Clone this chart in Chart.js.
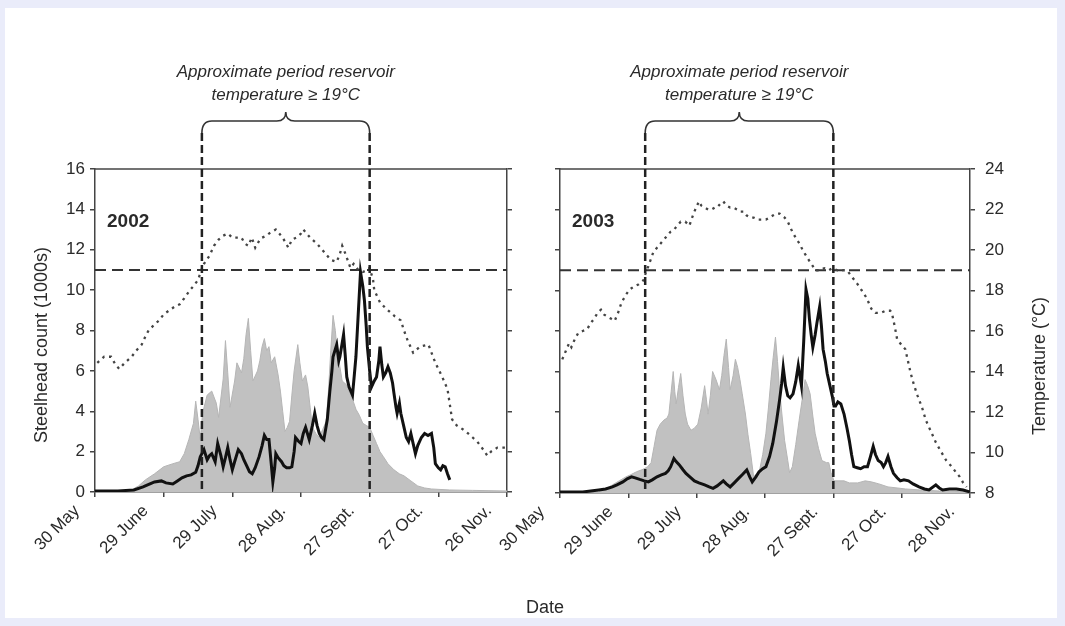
<!DOCTYPE html>
<html>
<head>
<meta charset="utf-8">
<script src="https://cdn.jsdelivr.net/npm/chart.js@4/dist/chart.umd.min.js"></script>
<style>
  body { margin: 0; width: 1065px; height: 626px; overflow: hidden; background: #eaecfa;
         font-family: "Liberation Sans", Arial, sans-serif; }
  #sheet { position: absolute; left: 5px; top: 8px; width: 1052px; height: 610px; background: #fff; }
  canvas { position: absolute; top: 0; }
  #c02 { left: 0; }
  #c03 { left: 470px; }
  #date { position: absolute; left: 500px; width: 90px; top: 597px; text-align: center;
          font-size: 18px; color: #2a2a2a; }
</style>
</head>
<body>
<div id="sheet"></div>
<canvas id="c02" width="532" height="626"></canvas>
<canvas id="c03" width="595" height="626"></canvas>
<div id="date">Date</div>
<script>
// x axis: days after 30 May, one tick every 30 days
const xLabels02 = ['30 May', '29 June', '29 July', '28 Aug.', '27 Sept.', '27 Oct.', '26 Nov.'];
const xLabels03 = ['30 May', '29 June', '29 July', '28 Aug.', '27 Sept.', '27 Oct.', '28 Nov.'];
const countTicks = [0, 2, 4, 6, 8, 10, 12, 14, 16];
const tempTicks = [8, 10, 12, 14, 16, 18, 20, 22, 24];
const threshold = 19;

// period with reservoir temperature >= 19 C (day numbers)
const period02 = [46.7, 120];
const period03 = [37.4, 120];

// shaded series, [day, count in 1000s]
const shaded02 = [[0,0],[10,0.05],[16,0.1],[19,0.3],[22,0.6],[26,0.9],[30,1.25],[34,1.4],[37,1.5],[39,1.9],[41,2.6],[43,3.4],[44,4.5],[45,3.6],[46,2.6],[47,3.9],[49,4.8],[51,5.0],[53,4.4],[54,3.7],[56,5.6],[57,7.5],[58,5.9],[59,4.2],[61,5.5],[62,6.4],[64,5.9],[65,6.6],[66,7.8],[67,8.6],[68,7.0],[69,5.5],[71,6.0],[72,6.5],[73,7.2],[74,7.6],[75,7.0],[76,7.2],[77,6.4],[78.5,6.7],[80,5.8],[81,5.0],[82,4.0],[83,3.0],[84,3.2],[85,3.5],[86,4.8],[87,6.0],[88.6,7.3],[89.5,6.4],[90.6,5.5],[92,5.8],[93,5.2],[94,4.2],[95,3.2],[96.5,2.9],[98,2.7],[99.5,3.1],[101,3.5],[102,5.0],[103,7.0],[104,8.75],[105,8.0],[105.6,7.2],[107,6.2],[108,5.5],[110,5.3],[111,5.0],[112.5,4.6],[114,4.1],[115.5,3.8],[117,3.4],[118.5,3.3],[120,3.2],[121.5,2.8],[123,2.4],[124.5,2.0],[126,1.75],[128,1.4],[130.6,1.1],[133,0.9],[135,0.8],[138,0.55],[141,0.3],[144,0.2],[147,0.15],[155,0.1],[165,0.08],[180,0.05]];
const shaded03 = [[0,0],[10,0.03],[17,0.05],[20,0.2],[23,0.4],[26,0.6],[29,0.8],[31,0.9],[33.6,1.05],[36,1.15],[37,1.2],[38.5,1.3],[40,1.5],[41.3,2.3],[42.6,3.1],[44,3.4],[45.6,3.6],[47,3.7],[47.8,3.9],[48.8,5.0],[49.7,6.0],[50.4,5.0],[51,4.4],[52,5.2],[53,5.9],[54,4.8],[55,3.9],[56,3.4],[57.5,3.1],[59,3.2],[60.5,3.4],[62,4.2],[63.5,5.3],[64.3,4.6],[65,3.9],[66,4.8],[67,6.0],[68.5,5.6],[70,5.1],[71,5.8],[72,6.8],[73,7.6],[74,6.2],[74.7,5.1],[76,5.8],[77,6.6],[78,6.2],[79,5.6],[80,4.9],[81.4,3.9],[82.5,2.9],[83.7,1.96],[85,0.8],[86,0.9],[87.4,1.0],[89,1.9],[90.4,2.95],[91.5,4.2],[92.6,5.6],[93.6,6.7],[94.6,7.7],[95.5,6.5],[96.4,5.1],[97.5,3.8],[98.6,2.6],[100,1.6],[100.8,1.0],[102,1.3],[103.5,2.4],[105,3.6],[106.3,4.6],[107.6,5.6],[108.7,5.3],[109.8,4.9],[111,3.8],[112,2.95],[113.5,2.2],[115,1.6],[117,1.5],[118,1.5],[119,1.0],[120.3,0.6],[124.7,0.6],[127,0.5],[130.7,0.5],[134,0.6],[136.7,0.55],[140,0.45],[144,0.3],[148,0.25],[151.6,0.2],[158,0.15],[166.6,0.1],[173,0.08],[180,0.05]];

// solid black series, [day, count in 1000s]
const solid02 = [[0,0.05],[10,0.05],[17,0.1],[21,0.25],[24,0.4],[26,0.5],[29,0.55],[31,0.45],[34,0.4],[36,0.55],[38,0.7],[40,0.8],[42,0.85],[44,0.98],[45,1.3],[46,1.75],[47.6,2.1],[49,1.6],[50,1.8],[51,1.9],[52.5,1.5],[53.6,2.4],[55,1.8],[56,1.25],[57,1.7],[58,2.2],[59,1.6],[60,1.1],[61,1.5],[62.6,2.1],[64,1.9],[65,1.6],[66.5,1.25],[67.5,1.0],[68.7,0.9],[70,1.2],[71.7,1.75],[73,2.3],[74,2.8],[75,2.6],[76,2.6],[77,1.4],[77.7,0.5],[78.5,1.2],[79,1.9],[80,1.7],[81.5,1.5],[82.5,1.3],[83.7,1.2],[85,1.2],[86,1.25],[87,2.0],[87.6,2.7],[89,2.5],[90,2.4],[91,2.9],[92,3.2],[93.6,2.6],[95,3.3],[96,3.9],[97,3.3],[98,2.9],[99,2.7],[100,2.6],[101.5,3.6],[102.6,5.0],[103.5,6.0],[104,6.7],[105.6,7.3],[106.5,6.5],[107,6.7],[108.6,7.8],[109.3,6.8],[110,5.7],[111,5.2],[112.5,4.8],[113.3,5.8],[114,6.7],[115,8.8],[116,10.9],[117,10.2],[117.7,9.5],[118.5,8.2],[119,7.2],[120,6.0],[120.8,5.2],[122,5.5],[123,5.7],[124,6.5],[124.5,7.2],[125.3,6.3],[126,5.7],[127,5.9],[128,6.2],[129,5.9],[130,5.4],[130.6,4.9],[131.5,4.2],[132,3.9],[133,4.4],[133.6,3.9],[135,3.2],[136,2.7],[137,2.5],[138,2.9],[139,2.4],[140,1.9],[141,2.3],[142.6,2.7],[144,2.9],[145.5,2.8],[147,2.9],[148,2.2],[148.7,1.4],[150,1.2],[151,1.1],[152,1.3],[153,1.25],[154,0.9],[155,0.6]];
const solid03 = [[0,0.05],[10,0.05],[17,0.15],[20,0.2],[23,0.3],[25,0.4],[27.6,0.55],[29.5,0.7],[31.4,0.8],[33,0.75],[35,0.67],[37,0.6],[38.8,0.55],[40.5,0.65],[42.6,0.8],[44.5,0.9],[46.3,0.97],[47.5,1.1],[48.6,1.3],[50,1.7],[51,1.55],[52.3,1.4],[54,1.15],[55.3,0.97],[57,0.8],[59,0.6],[61,0.5],[63.5,0.4],[65.5,0.3],[67.2,0.23],[69,0.35],[71.7,0.6],[73,0.45],[74.7,0.3],[76.5,0.5],[78.4,0.72],[80,0.9],[82,1.14],[83.3,0.8],[84.4,0.55],[86,0.8],[87.4,1.05],[89,1.2],[90.4,1.3],[92,1.8],[93.4,2.45],[95,3.5],[96.4,4.6],[97.3,5.4],[98,6.2],[99,5.3],[100,4.8],[101,4.7],[102.3,4.9],[103.5,5.5],[104.6,6.3],[105.3,5.8],[106,5.3],[107,7.5],[108,10.05],[108.8,9.6],[109.5,8.6],[110.3,7.8],[111,7.2],[112,7.8],[112.8,8.4],[114,9.2],[114.8,8.2],[115.5,7.1],[116.5,6.5],[117.3,5.9],[118.5,5.3],[119.5,4.8],[120.3,4.3],[121,4.3],[122,4.5],[123.3,4.4],[124.7,3.9],[126,3.2],[127,2.6],[128,1.9],[129,1.3],[130.5,1.25],[132,1.2],[133.5,1.3],[135,1.3],[136.3,1.8],[137.5,2.3],[138.5,1.9],[139.7,1.6],[141,1.5],[142,1.3],[143,1.5],[144,1.8],[145.3,1.3],[146.4,0.97],[148,0.75],[149.4,0.6],[151,0.65],[153,0.6],[155,0.45],[157.6,0.3],[160,0.2],[162,0.15],[165,0.4],[166.5,0.25],[168,0.15],[171,0.2],[174,0.2],[177,0.15],[180,0.05]];

// reservoir temperature, [day, deg C]
const temp02 = [[1,14.4],[4,14.7],[7,14.7],[9,14.3],[10.6,14.1],[13,14.4],[16,14.7],[18,15.0],[20.4,15.3],[22,15.7],[23.4,16.0],[26,16.3],[28,16.5],[30,16.8],[32.5,17.0],[35,17.2],[37,17.3],[39,17.6],[41.5,18.0],[43,18.2],[45,18.5],[46.5,19.0],[47.6,19.3],[50,19.7],[52,20.2],[54,20.5],[56,20.7],[58,20.8],[60,20.6],[62,20.6],[64,20.6],[65.5,20.3],[67,20.2],[68.5,20.6],[70,20.1],[72,20.5],[73,20.6],[75,20.7],[76,20.8],[79,21.0],[80.5,20.8],[82,20.6],[84.5,20.1],[86,20.5],[88,20.6],[90,20.8],[91,21.0],[92.5,20.8],[94,20.6],[97,20.3],[100,19.9],[103,19.5],[105.6,19.4],[107,19.8],[108,20.2],[109.4,19.8],[111.6,19.1],[113,19.3],[115,19.0],[117,18.9],[119,19.0],[120,19.1],[121.5,18.5],[122,18.0],[124.5,17.4],[127,17.1],[129,16.9],[131,16.7],[133.6,16.5],[135,16.0],[136.6,15.5],[139,14.9],[142,15.2],[145.7,15.3],[147,14.9],[148.7,14.4],[151.7,13.7],[154,13.1],[156,11.6],[158,11.3],[160.8,11.1],[163,10.9],[165,10.7],[167,10.5],[169,10.2],[171.4,9.8],[173,10.0],[175.8,10.2],[178,10.2],[180,10.2]];
const temp03 = [[1,14.6],[2.5,15.0],[4,15.4],[5,15.2],[6.5,15.6],[8,15.9],[10,16.0],[12,16.1],[13.5,16.4],[15,16.6],[16.5,16.9],[18,17.05],[19.5,16.8],[21,16.7],[22.5,16.6],[24,16.5],[25.5,16.9],[27,17.4],[29,17.8],[30.6,18.05],[32.5,18.2],[34.4,18.3],[36.6,18.5],[38,19.0],[38.8,19.2],[41,19.9],[42.5,20.1],[44,20.3],[45.5,20.5],[47,20.7],[48.5,20.9],[50,21.0],[51.5,21.2],[53,21.4],[55,21.4],[56.8,21.2],[58,21.6],[59,21.9],[61,22.4],[62,22.2],[63.5,22.1],[65,22.0],[66.5,22.0],[68,22.1],[69,22.1],[70.5,22.3],[71.7,22.4],[73,22.2],[74.7,22.1],[76,22.1],[77.7,22.0],[79,21.9],[80.7,21.9],[82,21.7],[83.7,21.6],[85,21.6],[86.7,21.5],[88.5,21.5],[90.4,21.5],[92,21.6],[93.4,21.7],[95,21.8],[96.4,21.8],[97.5,21.7],[98.6,21.6],[100,21.4],[100.8,21.2],[102,20.9],[103,20.7],[104,20.5],[105.3,20.3],[106.5,20.0],[107.6,19.8],[108.7,19.6],[109.8,19.4],[111,19.2],[112,19.0],[114,19.0],[116,19.1],[118,19.0],[119.5,19.1],[121.8,19.0],[124,19.0],[126,19.0],[128,18.7],[130.7,18.3],[132.5,18.0],[134.5,17.65],[136.7,17.1],[138.5,16.9],[141,16.9],[143,17.0],[145,17.0],[145.7,16.9],[147,16.2],[148,15.6],[150,15.3],[151.6,15.1],[153,14.4],[154,13.9],[155.5,13.3],[157,12.8],[159,12.2],[160.6,11.6],[163,11.0],[165,10.5],[167,10.1],[169.6,9.6],[172,9.3],[174,9.0],[175.5,8.8],[177,8.5],[178.5,8.3]];

Chart.defaults.font.family = '"Liberation Sans", Arial, sans-serif';
Chart.defaults.color = '#2a2a2a';

const pts = arr => arr.map(([x, y]) => ({ x, y }));

// frame, period lines, brace, notes, year and y titles
const decor = {
  id: 'decor',
  afterDatasetsDraw(chart, args, o) {
    const { ctx, chartArea: a, scales: { x } } = chart;
    const xs = o.period.map(d => x.getPixelForValue(d));
    const mid = (xs[0] + xs[1]) / 2;
    ctx.save();
    ctx.strokeStyle = '#444';
    ctx.lineWidth = 1.5;
    ctx.beginPath(); ctx.moveTo(a.left, a.top); ctx.lineTo(a.right, a.top); ctx.stroke();

    ctx.strokeStyle = '#222';
    ctx.lineWidth = 2.5;
    ctx.setLineDash([8, 4]);
    xs.forEach(px => { ctx.beginPath(); ctx.moveTo(px, 133); ctx.lineTo(px, a.bottom); ctx.stroke(); });

    ctx.setLineDash([]);
    ctx.lineWidth = 1.6;
    ctx.strokeStyle = '#333';
    const yb = 121;
    ctx.beginPath();
    ctx.moveTo(xs[0], 133);
    ctx.quadraticCurveTo(xs[0], yb, xs[0] + 10, yb);
    ctx.lineTo(mid - 9, yb);
    ctx.quadraticCurveTo(mid, yb, mid, yb - 9);
    ctx.quadraticCurveTo(mid, yb, mid + 9, yb);
    ctx.lineTo(xs[1] - 10, yb);
    ctx.quadraticCurveTo(xs[1], yb, xs[1], 133);
    ctx.stroke();

    ctx.fillStyle = '#2a2a2a';
    ctx.textAlign = 'center';
    ctx.textBaseline = 'middle';
    ctx.font = 'italic 17px "Liberation Sans", Arial, sans-serif';
    ctx.fillText('Approximate period reservoir', mid, 72);
    ctx.fillText('temperature \u2265 19\u00b0C', mid, 95);

    ctx.textAlign = 'left';
    ctx.font = 'bold 19px "Liberation Sans", Arial, sans-serif';
    ctx.fillText(o.year, a.left + 12, 222);

    ctx.textAlign = 'center';
    ctx.font = '18px "Liberation Sans", Arial, sans-serif';
    ctx.translate(o.titleX, o.titleY);
    ctx.rotate(-Math.PI / 2);
    ctx.fillText(o.title, 0, 0);
    ctx.restore();
  }
};

function axisStyle() {
  return {
    grid: { drawOnChartArea: false, tickLength: 5, color: '#444', lineWidth: 1.5 },
    border: { color: '#444', width: 1.5 }
  };
}

function makePanel(id, p) {
  return new Chart(document.getElementById(id), {
    type: 'line',
    data: {
      datasets: [
        { data: pts(p.solid), yAxisID: 'y', borderColor: '#111', borderWidth: 3, order: 0 },
        { data: pts(p.temp), yAxisID: 'yT', borderColor: '#444', borderWidth: 2.3, borderDash: [2.5, 4.5], order: 1 },
        { data: [{ x: 0, y: threshold }, { x: 180, y: threshold }], yAxisID: 'yT', borderColor: '#333', borderWidth: 2, borderDash: [11, 6], order: 2 },
        { data: pts(p.shaded), yAxisID: 'y', borderColor: '#b5b5b5', borderWidth: 1, backgroundColor: '#c1c1c1', fill: 'origin', order: 3 }
      ]
    },
    options: {
      responsive: false,
      animation: false,
      events: [],
      elements: { point: { radius: 0 }, line: { tension: 0 } },
      layout: { padding: { top: 169 } },
      plugins: {
        legend: { display: false },
        tooltip: { enabled: false },
        decor: { year: p.year, period: p.period, title: p.title, titleX: p.titleX, titleY: p.titleY }
      },
      scales: {
        x: {
          type: 'linear', min: 0, max: 180,
          afterFit: s => { s.height = p.bottomH; },
          ticks: {
            stepSize: 30, autoSkip: false, minRotation: 45, maxRotation: 45,
            labelOffset: -18, padding: 4, font: { size: 17 },
            callback: v => p.xLabels[v / 30]
          },
          ...axisStyle()
        },
        y: {
          position: 'left', min: countTicks[0], max: countTicks[countTicks.length - 1],
          afterFit: s => { s.width = p.leftW; },
          ticks: { stepSize: 2, display: p.countLabels, padding: 5, font: { size: 17 } },
          ...axisStyle()
        },
        yT: {
          position: 'right', min: tempTicks[0], max: tempTicks[tempTicks.length - 1],
          afterFit: s => { s.width = p.rightW; },
          ticks: { stepSize: 2, display: p.tempLabels, padding: 10, font: { size: 17 } },
          ...axisStyle()
        }
      }
    },
    plugins: [decor]
  });
}

makePanel('c02', {
  year: '2002', period: period02, xLabels: xLabels02,
  shaded: shaded02, solid: solid02, temp: temp02,
  title: 'Steelhead count (1000s)', titleX: 42, titleY: 345,
  leftW: 95, rightW: 25, bottomH: 134, countLabels: true, tempLabels: false
});

makePanel('c03', {
  year: '2003', period: period03, xLabels: xLabels03,
  shaded: shaded03, solid: solid03, temp: temp03,
  title: 'Temperature (\u00b0C)', titleX: 570, titleY: 366,
  leftW: 90, rightW: 95, bottomH: 133, countLabels: false, tempLabels: true
});
</script>
</body>
</html>
